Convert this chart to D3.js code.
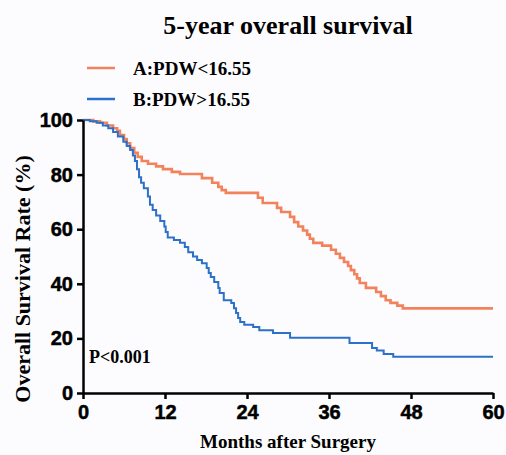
<!DOCTYPE html>
<html>
<head>
<meta charset="utf-8">
<script src="https://cdn.jsdelivr.net/npm/d3@7"></script>
<style>
  html, body { margin: 0; padding: 0; background: #fcfcfe; }
  svg { display: block; }
</style>
</head>
<body>
<svg id="chart" width="506" height="455"></svg>
<script>
// --- data (months, survival %) ---
const monthTicks = [0, 12, 24, 36, 48, 60];
const rateTicks = [0, 20, 40, 60, 80, 100];

const groupNames = ["A:PDW<16.55", "B:PDW>16.55"];

const timesA = [0, 1.5, 2.5, 3.5, 4.4, 5, 5.4, 6, 6.4, 6.9, 7.5, 8, 8.6, 9.5, 10.7, 11.7, 13, 14.2,
  17.4, 18.9, 19.8, 20.3, 20.9, 25.6, 26.3, 28.4, 29, 30.3, 30.9, 31.5, 32.2, 32.8, 33.2, 33.7,
  35, 36.3, 37, 37.6, 38.2, 38.8, 39.2, 39.7, 40.1, 40.5, 41.4, 42.9, 43.6, 44.3, 45, 46, 46.8, 60];
const survA = [100, 99.5, 99, 98, 97, 96, 94.5, 93, 91.5, 89.7, 88, 86.5, 85, 84, 83, 82, 81, 80.2,
  78.7, 77, 75.5, 74.3, 73.3, 71.5, 69.6, 67.8, 66.3, 64.5, 62.6, 61, 59.5, 58, 56.5, 55,
  54, 52.5, 51, 49.5, 48, 46.5, 45, 43.5, 42, 40.3, 38.5, 37, 35.5, 34, 33, 32, 31, 31];

const timesB = [0, 1, 2, 2.9, 3.7, 4.4, 5.1, 5.9, 6.4, 6.9, 7.3, 7.6, 7.9, 8.2, 8.5, 8.9, 9.5, 9.8,
  10.2, 10.7, 11.3, 11.9, 12.1, 12.4, 13.3, 14.2, 14.9, 15.4, 16.1, 16.7, 17.4, 18.1, 18.4, 18.7,
  19.2, 19.8, 20, 20.6, 21.7, 22.1, 22.4, 22.7, 23, 23.6, 24.9, 25.8, 27.8, 30.3, 39, 42.3, 43,
  44, 45.4, 60];
const survB = [100, 99.5, 99, 98, 97, 95.6, 94, 92, 90.5, 89, 87, 85, 82, 79, 77, 75, 72, 69,
  67, 65, 63, 61, 59, 57, 56, 55, 53.5, 51.6, 50, 48.7, 47.5, 45.8, 44, 42.5,
  40.7, 38.5, 36.6, 34, 33, 31, 29.3, 27.5, 26, 25, 24.2, 23, 22, 20.2, 18.3, 16.5, 15.6,
  14.3, 13.3, 13.3];

const colors = ["#f2825c", "#2b70c9"];

// --- layout ---
const svg = d3.select("#chart");
const plotLeft = 83, plotRight = 493, plotTop = 120, plotBottom = 393;

const x = d3.scaleLinear().domain([0, 60]).range([plotLeft, plotRight]);
const y = d3.scaleLinear().domain([0, 100]).range([plotBottom, plotTop]);

const serif = "'Liberation Serif', 'Times New Roman', serif";
const sans = "'Liberation Sans', Arial, sans-serif";

// title
svg.append("text")
  .attr("x", 288).attr("y", 34)
  .attr("text-anchor", "middle")
  .style("font-family", serif).style("font-weight", "bold").style("font-size", "26px")
  .text("5-year overall survival");

// legend
groupNames.forEach((name, i) => {
  const ly = 68 + i * 31;
  svg.append("line")
    .attr("x1", 87).attr("x2", 115).attr("y1", ly).attr("y2", ly)
    .attr("stroke", colors[i]).attr("stroke-width", 2.5);
  svg.append("text")
    .attr("x", 133).attr("y", ly + 7)
    .style("font-family", serif).style("font-weight", "bold").style("font-size", "19px")
    .text(name);
});

// curves
const series = [
  d3.zip(timesA, survA),
  d3.zip(timesB, survB)
];
const line = d3.line()
  .x(d => x(d[0]))
  .y(d => y(d[1]))
  .curve(d3.curveStepAfter);

series.forEach((pts, i) => {
  svg.append("path")
    .datum(pts)
    .attr("fill", "none")
    .attr("stroke", colors[i])
    .attr("stroke-width", i === 0 ? 2.6 : 2)
    .attr("d", line);
});

// axes
const xAxis = svg.append("g")
  .attr("transform", `translate(0,${plotBottom})`)
  .call(d3.axisBottom(x).tickValues(monthTicks).tickSize(6).tickSizeOuter(0).tickPadding(6));

const yAxis = svg.append("g")
  .attr("transform", `translate(${plotLeft},0)`)
  .call(d3.axisLeft(y).tickValues(rateTicks).tickSize(6).tickSizeOuter(0).tickPadding(4));

[xAxis, yAxis].forEach(g => {
  g.select(".domain").attr("stroke", "#000").attr("stroke-width", 2.5);
  g.selectAll(".tick line").attr("stroke", "#000").attr("stroke-width", 2.5);
  g.selectAll(".tick text")
    .attr("fill", "#000")
    .attr("stroke", "#000").attr("stroke-width", 0.5)
    .style("font-family", sans).style("font-weight", "bold").style("font-size", "20px");
});

// axis titles
svg.append("text")
  .attr("x", 288).attr("y", 448)
  .attr("text-anchor", "middle")
  .style("font-family", serif).style("font-weight", "bold").style("font-size", "19px")
  .text("Months after Surgery");

svg.append("text")
  .attr("transform", "translate(30,279) rotate(-90)")
  .attr("text-anchor", "middle")
  .style("font-family", serif).style("font-weight", "bold").style("font-size", "22px")
  .text("Overall Survival Rate (%)");

// p value
svg.append("text")
  .attr("x", 89).attr("y", 363)
  .style("font-family", serif).style("font-weight", "bold").style("font-size", "18px")
  .text("P<0.001");
</script>
</body>
</html>
